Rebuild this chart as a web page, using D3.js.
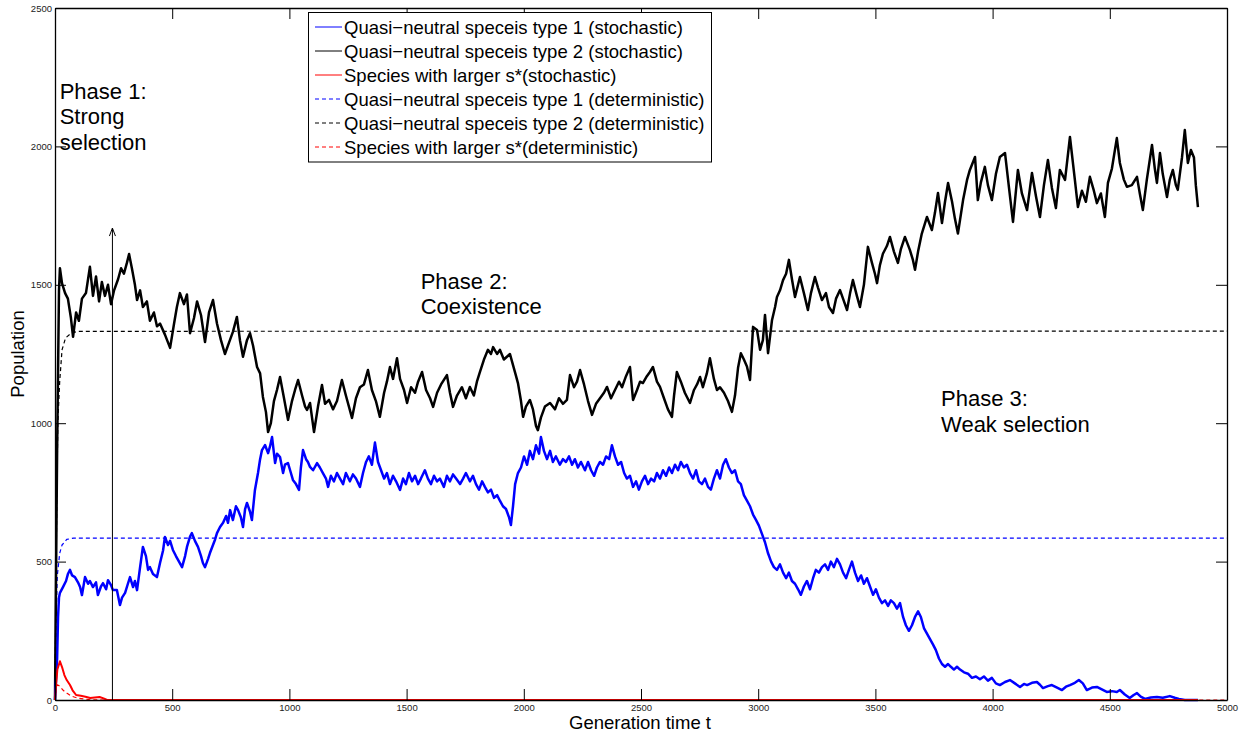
<!DOCTYPE html>
<html>
<head>
<meta charset="utf-8">
<script src="https://cdn.jsdelivr.net/npm/d3@7"></script>
<style>
  html, body { margin: 0; padding: 0; background: #fff; }
  svg { display: block; font-family: "Liberation Sans", Arial, Helvetica, sans-serif; }
</style>
</head>
<body>
<svg id="chart" width="1246" height="736"></svg>
<script>
// Generation times (t) and population values for each simulated species.
const type2Stoch = [
  [0,0],[9,900],[17,1480],[21,1560],[30,1505],[43,1470],[55,1450],[68,1380],[77,1312],[90,1400],[102,1370],[115,1450],
  [132,1470],[149,1565],[162,1460],[175,1530],[188,1440],[200,1510],[213,1460],[226,1500],[239,1430],[252,1480],
  [269,1520],[282,1560],[294,1540],[307,1580],[316,1611],[328,1560],[341,1500],[350,1445],[363,1480],[375,1420],
  [392,1440],[405,1370],[422,1400],[435,1350],[448,1360],[469,1320],[491,1272],[508,1360],[520,1420],[533,1470],
  [550,1430],[563,1465],[576,1325],[593,1380],[606,1440],[623,1390],[640,1293],[657,1400],[674,1445],[691,1360],
  [708,1300],[725,1250],[742,1290],[759,1330],[776,1384],[789,1300],[802,1240],[819,1300],[832,1325],[845,1280],
  [862,1203],[875,1180],[887,1095],[900,1040],[909,968],[921,1000],[934,1080],[947,1120],[960,1167],[977,1090],
  [994,1012],[1011,1080],[1024,1120],[1037,1156],[1054,1100],[1067,1060],[1075,1048],[1088,1073],[1105,968],
  [1122,1060],[1139,1138],[1152,1070],[1169,1084],[1186,1050],[1203,1080],[1224,1156],[1241,1100],[1254,1060],
  [1267,1019],[1284,1090],[1301,1130],[1318,1140],[1335,1192],[1352,1120],[1369,1080],[1386,1023],[1404,1110],
  [1416,1150],[1429,1203],[1442,1160],[1459,1235],[1472,1160],[1489,1120],[1502,1073],[1519,1130],[1536,1110],
  [1549,1150],[1566,1185],[1583,1120],[1600,1090],[1613,1059],[1630,1110],[1647,1140],[1672,1174],[1685,1110],
  [1698,1059],[1715,1100],[1736,1130],[1753,1090],[1770,1131],[1787,1100],[1800,1150],[1813,1185],[1830,1230],
  [1847,1265],[1860,1250],[1869,1275],[1886,1250],[1898,1265],[1915,1230],[1928,1240],[1941,1250],[1954,1210],
  [1967,1170],[1975,1145],[1988,1080],[1997,1023],[2009,1060],[2026,1084],[2039,1050],[2052,990],[2060,975],
  [2073,1020],[2090,1060],[2112,1073],[2133,1050],[2150,1090],[2167,1070],[2184,1084],[2197,1174],[2214,1130],
  [2227,1150],[2240,1192],[2257,1140],[2274,1080],[2291,1030],[2308,1070],[2325,1090],[2342,1110],[2355,1131],
  [2372,1090],[2389,1120],[2406,1150],[2419,1130],[2436,1170],[2453,1203],[2466,1084],[2483,1120],[2496,1150],
  [2508,1145],[2525,1170],[2538,1185],[2551,1203],[2568,1150],[2581,1131],[2598,1090],[2615,1050],[2632,1023],
  [2641,1100],[2653,1185],[2670,1150],[2687,1110],[2709,1073],[2726,1120],[2739,1140],[2752,1167],[2764,1130],
  [2781,1180],[2794,1235],[2811,1160],[2824,1120],[2837,1130],[2854,1110],[2871,1080],[2888,1041],[2901,1100],
  [2914,1200],[2926,1253],[2939,1230],[2952,1205],[2965,1156],[2978,1348],[2995,1337],[3008,1265],[3020,1300],
  [3029,1391],[3042,1253],[3059,1373],[3072,1420],[3080,1456],[3093,1480],[3106,1517],[3119,1540],[3131,1590],
  [3144,1520],[3157,1456],[3170,1500],[3178,1528],[3195,1470],[3212,1409],[3225,1470],[3242,1528],[3255,1490],
  [3272,1445],[3289,1470],[3302,1420],[3319,1398],[3332,1450],[3349,1481],[3366,1440],[3379,1409],[3392,1470],
  [3404,1517],[3421,1460],[3434,1420],[3451,1500],[3468,1637],[3485,1580],[3498,1540],[3507,1506],[3519,1570],
  [3532,1612],[3549,1640],[3562,1673],[3579,1620],[3596,1579],[3609,1630],[3626,1673],[3647,1626],[3660,1590],
  [3669,1554],[3682,1620],[3698,1685],[3720,1745],[3741,1698],[3754,1760],[3767,1832],[3784,1723],[3797,1800],
  [3810,1868],[3827,1800],[3839,1740],[3852,1685],[3861,1734],[3874,1806],[3891,1879],[3903,1915],[3925,1962],
  [3937,1806],[3950,1870],[3967,1926],[3980,1860],[3997,1806],[4014,1900],[4031,1962],[4053,1976],[4070,1850],
  [4087,1727],[4108,1915],[4125,1830],[4147,1770],[4168,1904],[4185,1820],[4202,1745],[4219,1860],[4236,1951],
  [4253,1850],[4270,1777],[4287,1915],[4309,1879],[4330,2034],[4351,1879],[4364,1781],[4381,1840],[4398,1800],
  [4415,1890],[4432,1840],[4445,1795],[4462,1830],[4479,1745],[4492,1868],[4509,1920],[4530,2030],[4543,1940],
  [4560,1880],[4573,1854],[4594,1860],[4616,1890],[4628,1830],[4641,1770],[4658,1880],[4680,2005],[4692,1920],
  [4701,1868],[4714,1976],[4726,1900],[4744,1817],[4756,1880],[4769,1915],[4782,1860],[4790,1843],[4808,1960],
  [4820,2059],[4833,1940],[4846,1987],[4859,1960],[4867,1860],[4876,1781]
];

const type1Stoch = [
  [0,0],[9,150],[13,300],[17,370],[21,387],[34,408],[47,430],[55,455],[64,470],[73,450],[85,444],[98,425],[107,408],
  [115,379],[128,444],[141,420],[149,430],[162,408],[175,425],[183,379],[196,410],[205,422],[218,400],[226,433],
  [239,415],[247,397],[264,397],[277,343],[286,370],[299,387],[311,420],[320,444],[333,408],[341,430],[350,397],
  [363,480],[375,553],[388,520],[397,470],[405,480],[418,455],[435,444],[448,495],[461,540],[469,589],[482,560],
  [491,575],[503,542],[516,520],[529,500],[542,480],[555,520],[563,553],[576,590],[584,603],[597,575],[610,553],
  [623,520],[631,495],[640,480],[653,510],[661,531],[674,560],[683,580],[691,603],[704,625],[717,640],[730,665],
  [738,640],[747,686],[759,650],[772,700],[781,686],[793,660],[802,625],[811,690],[819,712],[832,680],[840,650],
  [853,759],[866,820],[875,870],[883,903],[896,921],[909,892],[917,915],[926,950],[939,856],[947,890],[960,878],
  [973,820],[981,850],[994,856],[1003,830],[1015,795],[1028,780],[1041,759],[1049,840],[1058,903],[1071,870],
  [1079,860],[1088,842],[1101,830],[1118,856],[1130,840],[1143,820],[1156,800],[1165,770],[1177,810],[1190,790],
  [1203,820],[1216,800],[1229,780],[1241,820],[1258,790],[1271,815],[1284,800],[1301,770],[1314,820],[1327,860],
  [1339,880],[1352,850],[1365,930],[1378,860],[1391,830],[1404,800],[1416,820],[1429,780],[1442,810],[1455,790],
  [1472,759],[1485,800],[1497,780],[1510,820],[1523,790],[1536,810],[1549,780],[1561,800],[1578,830],[1591,800],
  [1604,780],[1617,810],[1630,790],[1642,800],[1659,770],[1672,810],[1685,790],[1698,815],[1711,800],[1728,780],
  [1741,800],[1753,820],[1770,790],[1783,810],[1796,780],[1809,760],[1822,790],[1834,770],[1847,750],[1860,760],
  [1873,730],[1886,740],[1898,720],[1911,700],[1924,690],[1937,660],[1945,632],[1954,700],[1963,780],[1975,820],
  [1988,840],[2001,880],[2014,850],[2026,900],[2039,870],[2052,920],[2065,890],[2073,950],[2086,900],[2099,870],
  [2112,900],[2124,860],[2137,880],[2154,850],[2167,870],[2180,860],[2193,880],[2206,850],[2218,870],[2231,840],
  [2244,860],[2261,830],[2274,860],[2287,830],[2300,810],[2312,840],[2325,860],[2338,850],[2351,880],[2364,870],
  [2376,920],[2389,880],[2402,850],[2415,860],[2428,820],[2440,800],[2453,810],[2466,770],[2479,790],[2491,760],
  [2504,790],[2517,810],[2530,780],[2543,800],[2556,790],[2568,820],[2581,800],[2594,830],[2607,810],[2620,840],
  [2632,820],[2645,850],[2658,830],[2670,860],[2683,840],[2696,850],[2709,820],[2722,800],[2735,830],[2747,790],
  [2760,780],[2773,800],[2786,770],[2798,760],[2811,800],[2824,830],[2837,800],[2850,850],[2862,870],[2875,840],
  [2888,820],[2901,830],[2914,790],[2926,780],[2939,740],[2952,720],[2965,700],[2978,670],[2991,650],[3003,630],
  [3016,600],[3029,570],[3042,530],[3055,500],[3067,480],[3080,470],[3093,490],[3106,460],[3119,440],[3131,460],
  [3144,430],[3157,420],[3170,400],[3182,380],[3195,410],[3208,430],[3221,400],[3234,440],[3246,470],[3259,460],
  [3272,480],[3285,490],[3298,470],[3310,500],[3323,480],[3336,510],[3349,490],[3362,460],[3375,440],[3387,470],
  [3400,500],[3413,460],[3426,430],[3439,450],[3451,420],[3464,440],[3477,410],[3490,380],[3502,400],[3515,370],
  [3528,350],[3541,360],[3554,340],[3566,360],[3579,350],[3592,330],[3605,350],[3618,300],[3630,270],[3643,250],
  [3656,270],[3669,300],[3682,320],[3694,300],[3707,260],[3720,240],[3733,220],[3746,200],[3758,180],[3771,150],
  [3784,130],[3797,120],[3810,130],[3822,120],[3835,110],[3848,120],[3861,110],[3878,100],[3895,95],[3912,80],
  [3929,85],[3946,75],[3963,85],[3980,70],[3997,80],[4014,60],[4031,54],[4053,65],[4074,72],[4095,60],[4117,47],
  [4134,58],[4147,54],[4168,62],[4189,65],[4202,55],[4215,43],[4236,50],[4253,54],[4275,45],[4296,36],[4313,48],
  [4330,54],[4351,62],[4368,72],[4385,60],[4402,36],[4424,45],[4445,47],[4466,38],[4487,29],[4509,32],[4530,29],
  [4543,36],[4564,20],[4585,7],[4602,18],[4616,25],[4632,12],[4650,4],[4675,9],[4701,11],[4726,8],[4756,14],
  [4777,8],[4795,4],[4820,0],[4876,0]
];

const largerStoch = [
  [0,0],[5,60],[10,110],[21,140],[30,119],[40,90],[50,72],[64,54],[75,35],[90,18],[110,15],[130,12],[150,7],
  [170,9],[190,11],[210,5],[222,0],[4876,0]
];

const type1Det = [[0,0],[5,300],[10,450],[20,530],[30,560],[50,580],[80,585],[5000,585]];
const type2Det = [[0,0],[4,400],[8,750],[12,1000],[20,1150],[30,1265],[45,1308],[70,1326],[100,1332],[5000,1333]];
const largerDet = [[0,0],[5,40],[10,55],[20,50],[35,35],[50,25],[70,14],[100,6],[150,1],[200,0],[5000,0]];

const xTicks = [0,500,1000,1500,2000,2500,3000,3500,4000,4500,5000];
const yTicks = [0,500,1000,1500,2000,2500];

const legendLabels = [
  "Quasi\u2212neutral speceis type 1 (stochastic)",
  "Quasi\u2212neutral speceis type 2 (stochastic)",
  "Species with larger s*(stochastic)",
  "Quasi\u2212neutral speceis type 1 (deterministic)",
  "Quasi\u2212neutral speceis type 2 (deterministic)",
  "Species with larger s*(deterministic)"
];

// Time at which the phase-1 arrow is drawn and how high it reaches
const arrowT = 245, arrowTop = 1705;

const phaseNotes = [
  { t: 20, v: 2172, lines: ["Phase 1:", "Strong", "selection"] },
  { t: 1560, v: 1485, lines: ["Phase 2:", "Coexistence"] },
  { t: 3780, v: 1062, lines: ["Phase 3:", "Weak selection"] }
];

(function draw() {
  const svg = d3.select("#chart");
  const plotL = 55, plotR = 1227, plotT = 8, plotB = 700;

  const x = d3.scaleLinear().domain([0, 5000]).range([plotL, plotR]);
  const y = d3.scaleLinear().domain([0, 2500]).range([plotB, plotT]);

  const line = d3.line().x(d => x(d[0])).y(d => y(d[1]));

  const series = [
    { data: type1Det, color: "#0000ff", dash: "4,3", width: 1.2 },
    { data: type2Det, color: "#000000", dash: "4,3", width: 1.2 },
    { data: largerDet, color: "#ff0000", dash: "4,3", width: 1.2 },
    { data: type2Stoch, color: "#000000", dash: null, width: 2.5 },
    { data: type1Stoch, color: "#0000ff", dash: null, width: 2.5 },
    { data: largerStoch, color: "#ff0000", dash: null, width: 2.0 }
  ];

  const plot = svg.append("g");
  series.forEach(s => {
    plot.append("path")
      .datum(s.data)
      .attr("d", line)
      .attr("fill", "none")
      .attr("stroke", s.color)
      .attr("stroke-width", s.width)
      .attr("stroke-linejoin", "round")
      .attr("stroke-dasharray", s.dash);
  });

  // Phase-1 arrow
  plot.append("line")
    .attr("x1", x(arrowT)).attr("x2", x(arrowT))
    .attr("y1", y(0)).attr("y2", y(arrowTop))
    .attr("stroke", "#000").attr("stroke-width", 1);
  plot.append("path")
    .attr("d", `M${x(arrowT) - 3},${y(arrowTop) + 8} L${x(arrowT)},${y(arrowTop)} L${x(arrowT) + 3},${y(arrowTop) + 8}`)
    .attr("fill", "none").attr("stroke", "#000").attr("stroke-width", 1);

  // Axes on all four sides, ticks pointing inward
  const tickLen = 11;
  const axisG = svg.append("g");
  axisG.append("g").attr("transform", `translate(0,${plotB})`)
    .call(d3.axisBottom(x).tickValues(xTicks).tickFormat(d3.format("d")).tickSizeInner(-tickLen).tickSizeOuter(0).tickPadding(4));
  axisG.append("g").attr("transform", `translate(0,${plotT})`)
    .call(d3.axisTop(x).tickValues(xTicks).tickFormat("").tickSizeInner(-tickLen).tickSizeOuter(0));
  axisG.append("g").attr("transform", `translate(${plotL},0)`)
    .call(d3.axisLeft(y).tickValues(yTicks).tickFormat(d3.format("d")).tickSizeInner(-tickLen).tickSizeOuter(0).tickPadding(3));
  axisG.append("g").attr("transform", `translate(${plotR},0)`)
    .call(d3.axisRight(y).tickValues(yTicks).tickFormat("").tickSizeInner(-tickLen).tickSizeOuter(0));

  axisG.selectAll(".domain").attr("stroke", "#000").attr("stroke-width", 1.3);
  axisG.selectAll(".tick line").attr("stroke", "#000").attr("stroke-width", 1);
  axisG.selectAll(".tick text")
    .attr("font-family", "Liberation Sans, Arial, sans-serif")
    .attr("font-size", 9.5).attr("fill", "#222");

  // Axis titles
  svg.append("text")
    .attr("x", 640).attr("y", 729)
    .attr("text-anchor", "middle").attr("font-size", 18.5).attr("fill", "#000")
    .text("Generation time t");
  svg.append("text")
    .attr("transform", `translate(24,${(plotT + plotB) / 2}) rotate(-90)`)
    .attr("text-anchor", "middle").attr("font-size", 18.5).attr("fill", "#000")
    .text("Population");

  // Phase annotations
  phaseNotes.forEach(n => {
    const tx = svg.append("text")
      .attr("x", x(n.t)).attr("y", y(n.v))
      .attr("font-size", 22).attr("fill", "#000");
    n.lines.forEach((l, i) => {
      tx.append("tspan").attr("x", x(n.t)).attr("dy", i === 0 ? 0 : 25.5).text(l);
    });
  });

  // Legend
  const lg = svg.append("g");
  lg.append("rect")
    .attr("x", 308.5).attr("y", 12.5).attr("width", 403).attr("height", 149.5)
    .attr("fill", "#fff").attr("stroke", "#000").attr("stroke-width", 1);
  const legendStyles = [series[4], series[3], series[5], series[0], series[1], series[2]];
  legendLabels.forEach((label, i) => {
    const cy = 27 + i * 24;
    const s = legendStyles[i];
    lg.append("line")
      .attr("x1", 315).attr("x2", 342).attr("y1", cy).attr("y2", cy)
      .attr("stroke", s.color).attr("stroke-width", 1)
      .attr("stroke-dasharray", s.dash ? "4,3" : null);
    lg.append("text")
      .attr("x", 344).attr("y", cy + 6.5)
      .attr("font-size", 18.5).attr("fill", "#000")
      .text(label);
  });
})();
</script>
</body>
</html>
